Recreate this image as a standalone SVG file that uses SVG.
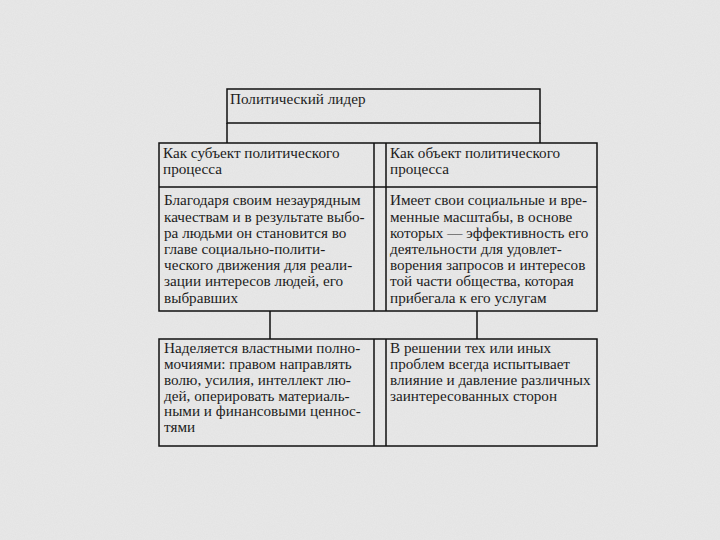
<svg xmlns="http://www.w3.org/2000/svg" width="720" height="540" viewBox="0 0 720 540">
<style>
.ln{stroke:#111;stroke-width:1.5;fill:none}
.t{font-family:"Liberation Serif","Times New Roman",serif;font-size:15.2px;fill:#1c1c1c}
</style>
<defs>
<filter id="grain" x="0" y="0" width="100%" height="100%">
<feTurbulence type="fractalNoise" baseFrequency="0.9" numOctaves="2" seed="3" result="n"/>
<feColorMatrix in="n" type="matrix" values="0 0 0 0 0.55  0 0 0 0 0.55  0 0 0 0 0.55  0 0 0 0.35 -0.05"/>
</filter>
</defs>
<rect width="720" height="540" fill="#e8e8e8"/>
<rect width="720" height="540" filter="url(#grain)" opacity="0.5"/>
<g id="leader">
<path class="ln" d="M227,89H540V123H227Z"/>
<text class="t" x="230" y="104">Политический лидер</text>
</g>
<g id="connectors">
<path class="ln" d="M227,123V143M540,123V143"/>
<path class="ln" d="M270,311V339M477,311V339"/>
</g>
<g id="upper-table">
<path class="ln" d="M159,143H597V311H159ZM159,187H597M374,143V311M386,143V311"/>
</g>
<g id="subject-head">
<text class="t" x="163" y="158">Как субъект политического</text>
<text class="t" x="163" y="174">процесса</text>
</g>
<g id="object-head">
<text class="t" x="390" y="158">Как объект политического</text>
<text class="t" x="390" y="174">процесса</text>
</g>
<g id="subject-text">
<text class="t" x="164" y="205">Благодаря своим незаурядным</text>
<text class="t" x="164" y="221.5">качествам и в результате выбо-</text>
<text class="t" x="164" y="238">ра людьми он становится во</text>
<text class="t" x="164" y="254">главе социально-полити-</text>
<text class="t" x="164" y="270">ческого движения для реали-</text>
<text class="t" x="164" y="286">зации интересов людей, его</text>
<text class="t" x="164" y="302.5">выбравших</text>
</g>
<g id="object-text">
<text class="t" x="390" y="205">Имеет свои социальные и вре-</text>
<text class="t" x="390" y="221.5">менные масштабы, в основе</text>
<text class="t" x="390" y="238">которых — эффективность его</text>
<text class="t" x="390" y="254">деятельности для удовлет-</text>
<text class="t" x="390" y="270">ворения запросов и интересов</text>
<text class="t" x="390" y="286">той части общества, которая</text>
<text class="t" x="390" y="302.5">прибегала к его услугам</text>
</g>
<g id="lower-table">
<path class="ln" d="M159,339H597V446H159ZM374,339V446M386,339V446"/>
</g>
<g id="subject-power">
<text class="t" x="164" y="353">Наделяется властными полно-</text>
<text class="t" x="164" y="369">мочиями: правом направлять</text>
<text class="t" x="164" y="385">волю, усилия, интеллект лю-</text>
<text class="t" x="164" y="400.5">дей, оперировать материаль-</text>
<text class="t" x="164" y="416">ными и финансовыми ценнос-</text>
<text class="t" x="164" y="432">тями</text>
</g>
<g id="object-pressure">
<text class="t" x="390" y="353">В решении тех или иных</text>
<text class="t" x="390" y="369">проблем всегда испытывает</text>
<text class="t" x="390" y="385">влияние и давление различных</text>
<text class="t" x="390" y="401">заинтересованных сторон</text>
</g>
</svg>
